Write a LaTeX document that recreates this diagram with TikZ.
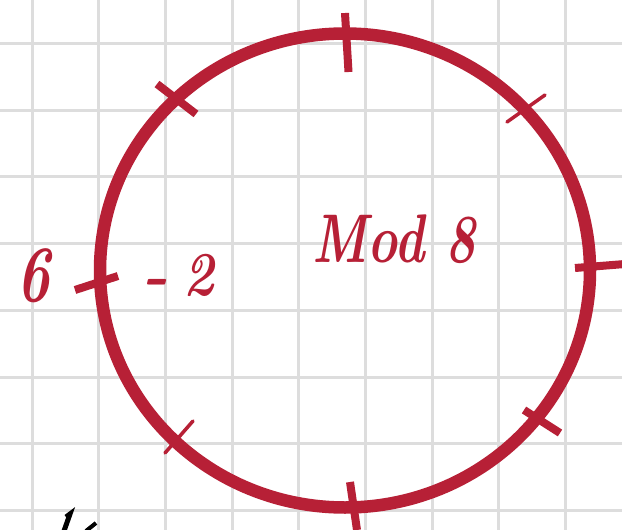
\documentclass[tikz,border=0pt]{standalone}
\usepackage{tikz}
\usepackage{graphicx}
\definecolor{ink}{RGB}{183,32,54}
\definecolor{gridgray}{RGB}{221,221,221}
\tikzset{
  gridline/.style={draw=gridgray, line width=3pt},
  ring/.style={draw=ink, line width=12.5pt},
  thicktick/.style={draw=ink, line width=8pt},
  thintick/.style={draw=ink, line width=3.5pt, line cap=round},
  label/.style={text=ink, font=\bfseries\itshape, inner sep=0pt},
}
\begin{document}
\begin{tikzpicture}[x=1pt,y=-1pt]
\useasboundingbox (0,0) rectangle (622,530);
\fill[white] (0,0) rectangle (622,530);
\begin{scope}
\clip (0,0) rectangle (622,530);
% grid
\foreach \gx in {32,98.7,165.4,232.1,298.8,365.5,432.2,498.9,565.6}
  \draw[gridline] (\gx,0) -- (\gx,530);
\foreach \gy in {43.5,110.2,176.9,243.6,310.3,377,443.7,510.4}
  \draw[gridline] (0,\gy) -- (622,\gy);
% circle
\draw[ring] (345,270.5) ellipse [x radius=245, y radius=237];
% ticks
\draw[thicktick] (345,13) -- (348.5,72);
\draw[thicktick] (350,482) -- (357,530);
\draw[thicktick] (75,290) -- (118,276);
\draw[thicktick] (575,268) -- (625,264);
\draw[thicktick] (157,84) -- (196,114);
\draw[thicktick] (524,410) -- (560,433);
\draw[thintick] (507,122) -- (545,95);
\draw[thintick] (165,453) -- (193,421);
% partial black handwriting at bottom
\draw[black, line width=5pt] (64,531) -- (70,514) -- (66,517);
\draw[black, line width=4pt] (86,531) -- (96,523);
% labels
\node[label, anchor=base, font=\bfseries\itshape\fontsize{64}{70}\selectfont] (six) at (34,301) {\scalebox{0.9}[1.25]{6}};
\node[label, anchor=base, font=\bfseries\itshape\fontsize{52}{60}\selectfont] (mtwo) at (178,295) {\scalebox{1.25}[1.15]{-}\hspace{0.3em}\scalebox{1}[1.2]{2}};
\node[label, anchor=base, font=\bfseries\itshape\fontsize{51}{60}\selectfont] (mod) at (394,262) {\scalebox{1}[1.35]{Mod 8}};
\end{scope}
\end{tikzpicture}
\end{document}
